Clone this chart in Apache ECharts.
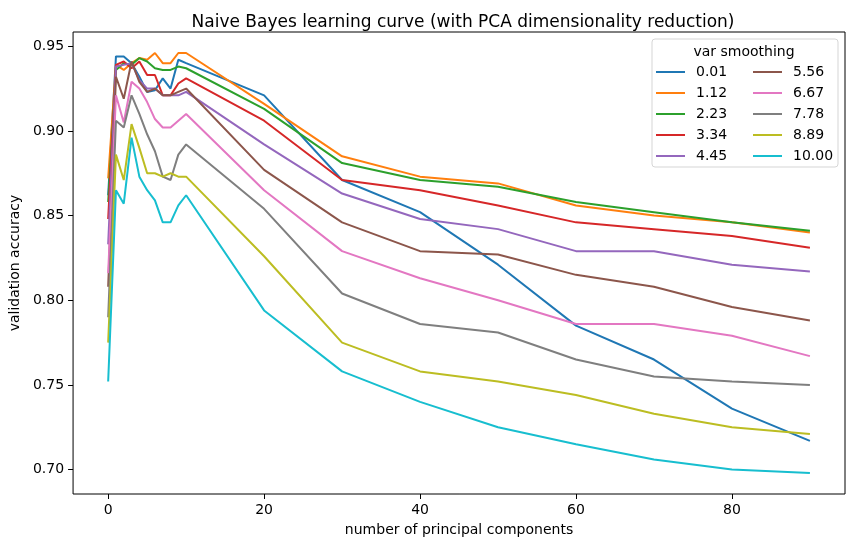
<!DOCTYPE html>
<html>
<head>
<meta charset="utf-8">
<title>Naive Bayes learning curve</title>
<script src="https://cdn.jsdelivr.net/npm/echarts@6/dist/echarts.min.js"></script>
<style>
  html, body { margin: 0; padding: 0; background: #fff; }
  #chart { width: 855px; height: 547px; }
</style>
</head>
<body>
<div id="chart"></div>
<script>
// number of principal components
const components = [0, 1, 2, 3, 4, 5, 6, 7, 8, 9, 10, 20, 30, 40, 50, 60, 70, 80, 90];

// validation accuracy per var_smoothing value
const acc001 = [0.862, 0.944, 0.944, 0.940, 0.932, 0.923, 0.924, 0.931, 0.925, 0.942, 0.940, 0.921, 0.871, 0.852, 0.821, 0.785, 0.765, 0.736, 0.717];
const acc112 = [0.872, 0.939, 0.936, 0.940, 0.943, 0.942, 0.946, 0.940, 0.940, 0.946, 0.946, 0.916, 0.885, 0.873, 0.869, 0.856, 0.850, 0.846, 0.840];
const acc223 = [0.858, 0.936, 0.940, 0.939, 0.943, 0.941, 0.937, 0.936, 0.936, 0.938, 0.937, 0.913, 0.881, 0.871, 0.867, 0.858, 0.852, 0.846, 0.841];
const acc334 = [0.848, 0.939, 0.941, 0.937, 0.941, 0.933, 0.933, 0.921, 0.921, 0.928, 0.931, 0.906, 0.871, 0.865, 0.856, 0.846, 0.842, 0.838, 0.831];
const acc445 = [0.833, 0.938, 0.939, 0.940, 0.930, 0.925, 0.925, 0.921, 0.921, 0.921, 0.923, 0.892, 0.863, 0.848, 0.842, 0.829, 0.829, 0.821, 0.817];
const acc556 = [0.808, 0.932, 0.919, 0.941, 0.929, 0.923, 0.925, 0.921, 0.921, 0.923, 0.925, 0.877, 0.846, 0.829, 0.827, 0.815, 0.808, 0.796, 0.788];
const acc667 = [0.816, 0.921, 0.905, 0.929, 0.925, 0.917, 0.907, 0.902, 0.902, 0.906, 0.910, 0.865, 0.829, 0.813, 0.800, 0.786, 0.786, 0.779, 0.767];
const acc778 = [0.790, 0.906, 0.902, 0.921, 0.910, 0.898, 0.888, 0.873, 0.871, 0.886, 0.892, 0.854, 0.804, 0.786, 0.781, 0.765, 0.755, 0.752, 0.750];
const acc889 = [0.775, 0.886, 0.871, 0.904, 0.890, 0.875, 0.875, 0.873, 0.875, 0.873, 0.873, 0.826, 0.775, 0.758, 0.752, 0.744, 0.733, 0.725, 0.721];
const acc1000 = [0.752, 0.865, 0.857, 0.896, 0.873, 0.865, 0.859, 0.846, 0.846, 0.856, 0.862, 0.794, 0.758, 0.740, 0.725, 0.715, 0.706, 0.700, 0.698];

const smoothingLabels = ['0.01', '1.12', '2.23', '3.34', '4.45', '5.56', '6.67', '7.78', '8.89', '10.00'];
const accuracies = [acc001, acc112, acc223, acc334, acc445, acc556, acc667, acc778, acc889, acc1000];

const xTicks = [0, 20, 40, 60, 80];
const yTicks = [0.70, 0.75, 0.80, 0.85, 0.90, 0.95];

const colors = ['#1f77b4', '#ff7f0e', '#2ca02c', '#d62728', '#9467bd',
                '#8c564b', '#e377c2', '#7f7f7f', '#bcbd22', '#17becf'];

const font = 'DejaVu Sans';

const chart = echarts.init(document.getElementById('chart'));

const series = smoothingLabels.map((name, i) => ({
  name: name,
  type: 'line',
  data: components.map((c, j) => [c, accuracies[i][j]]),
  showSymbol: false,
  symbol: 'none',
  lineStyle: { color: colors[i], width: 2 },
  itemStyle: { color: colors[i] },
  emphasis: { disabled: true }
}));

const legendBase = {
  orient: 'vertical',
  top: 64,
  padding: 0,
  icon: 'rect',
  itemWidth: 29,
  itemHeight: 2,
  itemGap: 5,
  z: 6,
  selectedMode: false,
  textStyle: { fontFamily: font, fontSize: 14, color: '#000', lineHeight: 16, padding: [0, 0, 0, 6] }
};

const option = {
  animation: false,
  color: colors,
  title: {
    text: 'Naive Bayes learning curve (with PCA dimensionality reduction)',
    left: 458,
    textAlign: 'center',
    top: 9,
    textStyle: { fontFamily: font, fontSize: 17, fontWeight: 'normal', color: '#000' }
  },
  grid: {
    left: 71,
    right: 10,
    top: 32,
    bottom: 53,
    show: true,
    borderColor: '#000',
    borderWidth: 1,
    backgroundColor: 'transparent'
  },
  xAxis: {
    type: 'value',
    min: -4.5,
    max: 94.5,
    name: 'number of principal components',
    nameLocation: 'middle',
    nameGap: 29,
    nameTextStyle: { fontFamily: font, fontSize: 14, color: '#000' },
    axisLine: { show: false, onZero: false },
    axisTick: { show: true, length: 5, customValues: xTicks, lineStyle: { color: '#000' } },
    axisLabel: {
      customValues: xTicks,
      margin: 9,
      fontFamily: font, fontSize: 14, color: '#000'
    },
    splitLine: { show: false }
  },
  yAxis: {
    type: 'value',
    min: 0.6856,
    max: 0.9584,
    name: 'validation accuracy',
    nameLocation: 'middle',
    nameGap: 46,
    nameTextStyle: { fontFamily: font, fontSize: 14, color: '#000' },
    axisLine: { show: false, onZero: false },
    axisTick: { show: true, length: 5, customValues: yTicks, lineStyle: { color: '#000' } },
    axisLabel: {
      customValues: yTicks,
      margin: 9,
      formatter: v => v.toFixed(2),
      fontFamily: font, fontSize: 14, color: '#000'
    },
    splitLine: { show: false }
  },
  legend: [
    Object.assign({}, legendBase, { left: 656, data: smoothingLabels.slice(0, 5) }),
    Object.assign({}, legendBase, { left: 753, data: smoothingLabels.slice(5) })
  ],
  graphic: [
    {
      type: 'rect',
      z: 5,
      shape: { x: 652, y: 39, width: 186, height: 128, r: 3 },
      style: { fill: 'rgba(255,255,255,0.8)', stroke: '#d5d5d5', lineWidth: 1 }
    },
    {
      type: 'text',
      z: 6,
      x: 744,
      y: 52,
      style: {
        text: 'var smoothing',
        font: '14px "DejaVu Sans"',
        fill: '#000',
        align: 'center',
        verticalAlign: 'middle'
      }
    }
  ],
  series: series
};

chart.setOption(option);
</script>
</body>
</html>
